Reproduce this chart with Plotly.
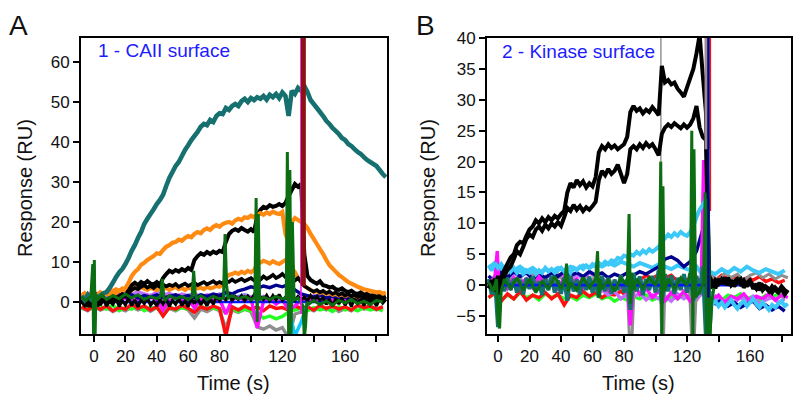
import plotly.graph_objects as go

# ---------------- time grids (sampling instants, s) ----------------
TA = list(range(-8, 188, 2))     # panel A, 2 s sampling
TA4 = list(range(-8, 188, 4))    # panel A, 4 s sampling
TB = list(range(-6, 186, 2))     # panel B, 2 s sampling
TB4 = list(range(-6, 186, 4))    # panel B, 4 s sampling

# ---------------- Panel A : CAII surface ----------------
TEAL_A = [1.5, 0.5, 1.8, 0.8, 2.0, 1.0, 1.6, 2.2,
          2.5, 3.5, 4.8, 6.2, 7.4, 8.2, 9.5, 11.0, 12.8, 14.2,
          16.0, 17.5, 19.5, 20.8, 22.0, 23.2, 24.5, 25.5, 26.8, 29.0,
          31.0, 32.5, 34.0, 35.0, 36.5, 38.0, 39.2, 40.5, 41.5, 42.5,
          43.8, 44.5, 44.2, 45.5, 45.0, 46.5, 47.2, 47.0, 48.5, 48.0,
          49.0, 49.5, 49.0, 50.2, 50.8, 50.0, 51.0, 50.5, 51.2, 50.8,
          51.5, 50.6, 51.8, 51.2, 52.0, 51.0, 52.4, 51.5, 46.5, 52.8,
          52.0, 53.5, 52.8, 54.0, 52.5, 50.5, 49.5, 48.5, 47.5, 46.5,
          45.3, 44.5, 43.5, 42.8, 42.0, 41.0, 40.5, 39.5, 39.0, 38.2,
          37.5, 37.0, 36.2, 35.5, 35.0, 34.5, 34.0, 33.0, 32.0, 31.2]
ORANGE_A1 = [1.5, 2.2, 1.2, 2.0, 1.0, 1.8, 2.4, 1.6, 2.2, 1.8,
             2.5, 2.2, 2.8, 3.0, 3.5, 4.8, 6.5, 7.5, 8.2, 9.3,
             9.8, 10.5, 11.0, 11.5, 12.2, 12.0, 13.0, 13.8, 14.2, 14.8,
             15.0, 15.6, 15.3, 16.0, 16.5, 16.2, 17.0, 17.5, 17.2, 18.0,
             18.4, 18.0, 18.8, 19.2, 18.8, 19.5, 19.8, 20.0, 19.6, 20.4,
             20.8, 20.5, 21.2, 21.0, 21.6, 21.2, 21.8, 22.2, 21.8, 22.4,
             22.0, 22.6, 22.2, 22.0, 22.5, 17.0, 15.0, 20.0, 21.0, 20.5,
             20.0, 19.5, 18.5, 17.0, 15.8, 14.5, 13.2, 12.0, 10.5, 9.2,
             8.4, 7.6, 6.8, 6.2, 5.6, 5.0, 4.6, 4.2, 3.8, 3.5,
             3.2, 3.0, 2.8, 2.6, 2.4, 2.5, 2.1, 2.3]
ORANGE_A2 = [1.0, 1.8, 0.8, 1.5, 0.5, 1.2, 2.0, 1.4, 2.2, 2.6,
             2.8, 3.2, 2.8, 3.4, 3.0, 3.5, 3.0, 3.6, 3.2, 3.8,
             3.3, 3.0, 3.6, 3.2, 3.0, 3.5, 3.2, 3.6, 3.0, 3.4,
             3.8, 3.2, 3.5, 3.0, 3.6, 3.3, 3.8, 3.4, 3.6, 3.2,
             3.8, 3.4, 3.6, 4.0, 3.8, 4.4, 6.0, 6.8, 7.0, 7.4,
             7.0, 7.6, 7.2, 7.8, 7.4, 8.0, 9.5, 9.8, 10.3, 10.0,
             9.6, 10.2, 9.8, 9.5, 10.0, 10.5, 9.5, 8.5, 7.5, 6.0,
             5.0, 4.0, 3.5, 3.0, 2.5, 2.8, 2.2, 2.5, 2.0, 2.3,
             1.8, 2.0, 1.6, 2.0, 1.5, 1.8, 1.4, 1.7, 1.2, 1.6,
             1.3, 1.5, 1.1, 1.4, 1.0, 1.3, 0.9, 1.2]
BLACK_A1 = [0.5, -0.5, 0.8, -0.8, 1.5, -1.0, 0.5, 1.0, 0.2, 1.2,
            0.6, 1.5, 1.0, 2.0, 1.5, 3.0, 4.2, 4.8, 4.2, 5.0,
            4.5, 5.2, 4.6, 4.4, 5.0, 4.3, 6.0, 7.0, 7.8, 7.4,
            8.0, 7.6, 8.2, 7.8, 8.5, 8.0, 10.5, 11.5, 12.2, 11.8,
            12.5, 12.0, 12.6, 12.2, 12.8, 12.5, 15.0, 17.0, 17.8, 18.2,
            17.8, 18.5, 18.0, 17.6, 18.2, 17.5, 21.5, 23.0, 23.8, 23.5,
            24.2, 23.8, 24.0, 24.5, 24.0, 24.8, 26.5, 28.0, 29.5, 28.8,
            29.5, 12.0, 6.5, 5.5, 5.0, 4.6, 5.2, 4.2, 4.0, 3.6,
            3.8, 3.2, 3.0, 3.4, 2.8, 2.5, 2.8, 2.2, 2.0, 2.4,
            1.8, 2.0, 1.5, 1.8, 1.3, 1.6, 1.0, 1.4]
BLACK_A2 = [0.2, -0.8, 0.5, -1.2, 0.8, -0.5, 0.3, 0.8, -0.2, 0.6,
            0.2, 0.9, 0.5, 1.2, 1.8, 2.2, 3.0, 3.5, 3.2, 3.8,
            4.2, 3.6, 4.0, 3.5, 4.2, 3.8, 4.4, 3.9, 4.3, 4.0,
            4.5, 3.8, 4.2, 4.6, 4.0, 4.4, 4.8, 4.2, 4.6, 5.0,
            4.4, 4.8, 5.2, 4.6, 5.0, 4.6, 5.4, 5.0, 5.6, 5.0,
            5.4, 5.8, 5.2, 5.6, 6.0, 5.4, 6.2, 5.6, 6.4, 5.8,
            6.2, 6.8, 6.0, 6.4, 7.0, 6.2, 6.8, 6.0, 5.4, 6.0,
            5.0, 4.0, 3.5, 3.0, 2.6, 3.0, 2.4, 2.8, 2.2, 2.6,
            2.0, 2.4, 1.8, 2.2, 1.6, 2.0, 1.4, 1.8, 1.2, 1.6,
            1.0, 1.4, 0.8, 1.2, 0.6, 1.0, 0.5, 0.8]
BLACK_A3 = [-0.5, 0.8, -1.2, 0.4, -2.0, 1.5, -0.8, 0.6, -1.0, 0.2,
            -0.6, 0.9, -1.1, 0.3, -0.7, 1.0, -0.9, 0.5, -1.2, 0.6,
            -0.4, 1.1, -0.8, 0.2, -1.0, 0.7, -0.5, 0.9, -1.1, 0.4,
            -0.6, 1.0, -0.9, 0.3, -1.2, 0.8, -0.4, 1.2, -0.7, 0.5,
            -1.0, 0.9, -0.6, 1.3, 0.3, 1.4, 0.5, 1.6, 0.4, 1.4,
            0.6, 1.6, 0.3, 1.5, 0.5, 1.8, 0.4, 1.3, 0.6, 1.7,
            0.3, 1.6, 0.5, 1.9, 0.4, 1.2, 0.6, 1.5, 0.4, 1.4,
            0.5, 1.2, 0.3, 1.6, 0.4, 1.3, 0.5, 1.0, -0.6, 0.7,
            -1.0, 0.8, -0.5, 1.0, -0.8, 0.6, -1.1, 0.9, -0.4, 0.7,
            -0.9, 1.0, -0.6, 0.5, -1.0, 0.8, -0.3, 0.6]
GRAY_A = [-1.5, -2.2, -1.0, -2.0, -1.4, -2.4, -1.6, -2.2, -1.2, -2.0,
          -1.5, -2.3, -1.4, -2.8, -1.6, -2.2, -1.3, -2.0, -4.0, -1.8,
          -2.4, -1.5, -2.2, -6.5, -2.0, -2.6, -1.8, -2.4, -6.2, -6.8,
          -6.0, -7.0, -6.4, -9.0, -3.0, -2.5, -1.5, -2.2, -1.4, -2.0,
          -1.2, -2.4, -1.6, -2.2, -1.0, -1.8, -1.4, -2.0, -1.2]
RED_A = [-1.2, -2.0, -0.8, -1.8, -1.0, -2.2, -1.4, -1.8, -0.6, -1.6,
         -1.0, -2.0, -1.2, -3.5, -1.4, -1.8, -0.8, -1.6, -2.6, -1.2,
         -1.8, -1.0, -1.6, -8.5, -1.2, -2.0, -1.0, -1.8, -1.2, -2.2,
         -1.0, -1.6, -1.4, -2.0, -1.0, -1.6, -1.2, -2.0, -0.8, -1.6,
         -1.0, -1.8, -1.2, -2.0, -0.8, -1.4, -1.0, -1.8, -1.2]
LIME_A = [-1.6, -1.0, -2.0, -1.2, -1.8, -0.8, -2.2, -1.4, -1.8, -1.0,
          -2.2, -1.4, -1.6, -2.4, -1.2, -2.0, -1.4, -1.8, -2.2, -1.0,
          -1.8, -1.4, -2.0, -2.6, -1.6, -2.4, -1.8, -2.2, -2.8, -4.0,
          -3.5, -4.2, -3.6, -2.5, -2.0, -1.6, -2.2, -1.4, -2.0, -1.6,
          -2.4, -1.2, -2.0, -1.6, -2.2, -1.4, -2.0, -1.6, -2.2]
VIOLET_A = [1.5, 2.2, 1.0, 2.0, 1.2, 2.4, 1.4, 2.2, 1.8, 2.6,
            2.0, 1.6, 2.4, 1.8, 2.2, 1.4, 2.0, 1.6, 2.2, 1.2,
            1.8, 1.4, 2.0, 0.8, 1.6, 1.0, 1.8, 1.2, 0.6, 1.4,
            0.8, 1.2, 0.5, 1.0, 0.8, 1.4, 1.0, 1.6, 0.8, 1.2,
            0.6, 1.4, 0.8, 1.2, 1.0, 1.6, 0.8, 1.2, 1.0]
MAGENTA_A = [0.5, 1.2, 0.2, 1.0, 0.4, 1.4, 0.6, 1.0, 0.2, 0.8,
             0.4, 1.2, 0.6, -2.0, 0.4, 1.0, 0.2, 0.8, -1.5, 0.6,
             1.0, 0.4, 0.8, -3.0, 0.6, 1.2, 0.4, 1.0, -6.5, 0.2,
             0.8, -0.5, 0.6, -2.0, -1.0, 0.6, 0.2, 0.8, 0.4, 1.0,
             0.2, 0.8, 0.4, 1.0, 0.6, 1.2, 0.4, 0.8, 0.6]
CYAN_A = [1.0, 2.0, 1.2, 1.8, 0.8, 1.6, 1.0, 2.0, 1.4, 1.8,
          1.0, 1.6, 1.2, 1.8, 1.0, 1.4, 0.8, 1.6, 1.2, 1.8,
          1.0, 1.4, 0.8, 1.6, 1.0, 1.4, 1.8, 1.2, 0.6, 1.0,
          0.4, 1.0, 0.6, -1.0, -8.5, -5.0, -0.5,
          0.6, 1.0, 0.4, 0.8, 1.2, 0.6, 1.0, 0.4, 0.8, 1.2, 0.6, 1.0]
NAVY_A = [2.0, 1.2, 2.4, 1.6, 2.2, 1.4, 2.0, 1.2, 1.8, 1.0,
          1.6, 1.2, 1.8, 1.0, 1.4, 1.8, 1.2, 1.6, 1.0, 1.8,
          1.4, 2.0, 1.6, 2.4, 2.0, 2.8, 3.2, 3.8, 3.4, 4.0,
          3.6, 4.2, 3.8, 4.4, 3.0, 2.0, 1.6, 1.2, 1.8, 1.0,
          1.4, 0.8, 1.2, 0.6, 1.0, 0.4, 0.8, 0.2, 0.6]
GREEN_A_T = [-8, -5, -2, -0.8, -0.3, 0.2, 0.7, 1.2, 2, 5,
             8, 12, 16, 20, 24, 28, 32, 36, 40, 42.5,
             43.5, 44.5, 45.5, 48, 52, 56, 60, 62.5, 63.5, 64.5,
             65.5, 68, 72, 76, 80, 82.5, 83.5, 84.5, 85.5, 88,
             92, 96, 100, 102.5, 103.3, 104.0, 104.7, 105.5, 108, 112,
             116, 120, 122.5, 123.2, 124.0, 124.8, 125.6, 126.4, 127.5, 130,
             133.2, 134.0, 134.8, 135.6, 137, 140, 144, 148, 152, 156,
             160, 164, 168, 172, 176, 180, 184]
GREEN_A = [1.2, 0.4, 1.5, 9.5, -8.5, 10.5, -8.5, 2.0, 0.5, 1.8,
           0.6, 1.6, 0.8, 2.0, 1.0, 1.8, 0.6, 1.4, 0.8, 1.5,
           5.8, 1.0, 0.5, 1.6, 0.8, 1.4, 0.6, 1.2, 7.8, 2.0,
           0.8, 1.6, 0.6, 1.4, 0.8, 1.0, 17.0, 4.0, 1.0, 1.6,
           0.8, 1.4, 0.6, 1.0, 26.0, -5.0, 22.0, 0.5, 1.2, 0.6,
           1.4, 0.8, 1.0, 37.5, -8.5, 33.0, -8.5, 20.0, 0.5, 1.0,
           -1.0, -9.0, -6.0, 0.0, -0.5, 0.4, -0.6, 0.2, -0.8, 0.4,
           -0.2, 0.6, -0.4, 0.2, -0.6, 0.4, 0.0]
BLUE_A_T = [-8, 150]
BLUE_A = [0.0, 0.0]
MAROON_A_T = [133.4, 133.4]
MAROON_A = [4.0, 80.0]
MAGSPIKE_A_T = [131.9, 131.9]
MAGSPIKE_A = [-3.0, 80.0]

# ---------------- Panel B : Kinase surface ----------------
TEAL_B = [1.0, -1.5, 1.2, -6.8, 1.5, -1.0, 1.2, -0.8, 1.0, -1.2,
          0.8, -1.5, 1.2, -0.6, 1.4, -1.0, 0.6, -1.6, 1.0, -0.8,
          1.5, -1.2, 0.8, -1.4, 1.2, -2.5, 1.6, -1.0, 0.9, -1.5,
          1.2, -0.8, 1.4, -1.2, 0.8, -2.0, 1.5, -1.0, 1.2, -1.4,
          0.9, -0.8, 1.6, -1.2, 1.0, -4.0, 2.0, -1.0, 1.4, -1.6,
          1.0, -0.8, 1.5, -1.2, 2.5, -3.0, 1.8, -1.0, 1.6, -1.4,
          1.2, -0.8, 1.8, -1.2, 2.0, -2.5, 1.5, -1.5, 3.0, -8.5,
          -8.5, -1.0] + [None] * 24
BLACK_B1 = [0.5, -0.5, 1.0, -1.5, 1.0, 2.5, 3.5, 4.5, 5.0, 6.5,
            7.0, 6.8, 8.0, 9.0, 9.5, 10.5, 10.0, 10.8, 10.2, 11.0,
            10.5, 11.2, 10.8, 11.5, 12.0, 15.0, 16.5, 15.8, 17.0, 16.2,
            16.8, 15.8, 16.5, 16.0, 17.5, 21.5, 22.5, 22.0, 22.8, 22.2,
            22.6, 22.0, 22.4, 22.8, 24.0, 28.0, 29.0, 28.2, 28.6, 27.8,
            28.4, 28.0, 28.8, 28.2, 27.5, 35.5, 32.8, 33.2, 32.5, 32.8,
            31.8, 31.2, 30.5, 32.0, 33.5, 35.0, 37.5, 40.5, 34.0, 28.0,
            1.5, 0.5, -0.5, 1.0, 0.2, 1.2, 0.0, 0.8, -0.2, 0.6,
            1.0, -0.4, 0.4, 0.8, -0.6, 0.2, -0.8, 0.0, -0.4, -1.0,
            -0.2, -0.8, -1.2, -0.5, -1.5, -0.8]
BLACK_B2 = [-0.5, 0.8, -1.0, 1.5, -0.5, 1.5, 2.5, 3.0, 4.2, 5.5,
            5.0, 6.2, 7.5, 8.2, 7.8, 9.0, 9.5, 8.8, 9.8, 9.2,
            10.0, 9.5, 10.2, 9.6, 11.0, 12.5, 12.0, 13.0, 12.2, 12.8,
            12.0, 12.6, 12.2, 12.8, 13.5, 17.0, 18.5, 17.8, 18.8, 18.0,
            18.5, 19.5, 18.0, 16.5, 18.0, 22.0, 22.5, 22.0, 22.8, 22.2,
            23.0, 22.4, 22.8, 22.0, 21.0, 24.5, 25.5, 26.0, 25.6, 26.2,
            25.8, 25.4, 26.0, 25.5, 26.0, 27.0, 29.0, 25.5, 24.0, 23.5,
            0.5, -0.5, 0.8, 0.2, 1.0, 0.4, 1.2, 0.0, 0.6, 1.0,
            0.2, 0.8, -0.2, 0.6, 0.0, -0.6, 0.4, -0.8, -0.2, -0.6,
            -1.2, -0.4, -1.0, -0.2, -0.8, -1.2]
LIGHTBLUE_B1 = [3.2, 2.4, 3.6, 2.8, 3.4, 2.6, 3.0, 2.2, 2.8, 2.0,
                2.6, 1.8, 2.4, 2.0, 2.6, 1.8, 2.4, 2.0, 2.8, 2.2,
                2.6, 2.0, 2.4, 2.8, 2.2, 2.6, 2.0, 2.8, 2.4, 3.0,
                2.6, 3.2, 2.8, 3.4, 3.0, 3.6, 3.2, 3.8, 3.4, 4.0,
                3.8, 4.4, 4.2, 4.8, 4.6, 5.0, 4.8, 5.4, 5.0, 5.6,
                5.2, 5.8, 5.4, 5.8, 6.2, 7.0, 7.6, 8.2, 7.8, 8.4,
                8.0, 8.6, 8.2, 8.0, 8.6, 9.5, 11.0, 12.2, 13.0, 14.0,
                -1.0, -3.0, -2.6, -3.4, -2.8, -3.6, -3.0, -2.4, -3.2, -3.8,
                -3.0, -2.6, -3.4, -2.8, -2.2, -3.0, -3.6, -2.8, -3.4, -4.0,
                -3.2, -3.6, -3.0, -2.6, -3.4, -3.0]
LIGHTBLUE_B2 = [2.8, 3.6, 2.6, 3.2, 2.4, 3.0, 2.2, 2.8, 2.0, 2.6,
                2.2, 2.8, 2.4, 3.0, 2.6, 3.2, 2.8, 3.4, 3.0, 3.6,
                3.2, 3.8, 3.4, 3.0, 3.6, 3.2, 2.8, 3.4, 3.0, 2.6,
                3.2, 2.8, 2.4, 3.0, 1.6, 2.2, 1.8, 2.6, 2.0, 2.8,
                2.2, 3.0, 2.4, 2.0, 2.6, 2.2, 1.8, 2.4]
NAVY_B = [1.5, 0.5, 2.0, 1.2, 2.2, 1.4, 2.0, 1.0, 1.8, 1.2,
          2.0, 1.4, 2.2, 1.6, 2.0, 1.4, 2.2, 1.6, 2.0, 1.2,
          1.8, 1.4, 2.0, 1.6, 2.2, 1.8, 2.4, 3.0, 4.2, 4.6,
          4.0, 3.0, 3.8, 5.5, 9.0, -2.0, -3.0, -2.4, -3.4, -2.8,
          -3.6, -3.0, -2.6, -3.8, -3.2, -4.0, -3.4, -4.2]
VIOLET_B = [1.0, 0.2, 1.6, 0.8, 2.0, 1.2, 2.2, 1.4, 1.8, 1.0,
            2.0, 1.2, 1.6, 0.8, 1.8, 1.0, 2.0, 1.4, -0.8, -1.6,
            -1.0, -2.2, -1.4, -2.0, -1.2, -2.4, -1.6, -2.2, -1.8, -2.6,
            -1.4, -2.2, -1.6, -2.4, -1.0, -2.6, -1.8, -3.0, -2.2, -2.8,
            -2.0, -2.6, -1.8, -3.0, -2.4, -2.0, -2.8, -2.2]
RED_B = [-2.0, -1.2, -2.6, -1.4, -2.2, -1.0, -2.4, -1.6, -2.0, -1.2,
         -2.2, -1.4, -3.2, -1.6, -2.0, -1.0, -1.8, -1.2, -2.0, -1.4,
         -1.6, -1.0, -1.8, -1.2, 0.8, 1.6, 1.0, 1.8, 1.2, 1.6,
         0.6, 1.2, 0.4, 1.0, 0.6, 1.4, 0.8, 1.6, 1.0, 1.4,
         0.6, 1.2, 0.8, 1.4, 0.6, 1.0, 0.4, 0.8]
LIME_B = [-2.0, -1.4, -2.4, -1.6, -2.2, -1.2, -2.0, -1.6, -2.4, -1.4,
          -2.0, -1.6, -2.2, -1.8, -2.4, -1.6, -2.0, -1.4, -2.2, -1.8,
          -2.6, -2.0, -2.4, -1.8, -2.2, -1.6, -2.4, -2.0, -2.6, -1.8,
          -2.2, -1.6, -2.4, -2.0, -1.4, -2.2, -1.8, -2.4, -1.6, -2.0,
          -1.4, -2.2, -1.8, -2.4, -1.6, -2.0, -1.4, -2.2]
GRAY_B_T = [-6, -2, 2, 6, 10, 14, 18, 22, 26, 30,
            34, 38, 42, 46, 50, 54, 58, 62, 66, 70,
            74, 78, 82, 83.5, 85, 86.5, 90, 94, 98, 102,
            103, 104, 105, 106, 110, 114, 118, 121.5, 123, 124.5,
            126, 129, 132, 136, 140, 144, 148, 152, 156, 160,
            164, 168, 172, 176, 180, 184]
GRAY_B = [0.5, 1.5, -0.5, 1.8, 0.2, 1.2, -0.4, 1.6, 0.4, 1.4,
          -0.2, 1.8, 0.6, 1.2, -0.6, 1.4, 0.2, 1.6, 0.0, 1.2,
          -0.4, 1.0, 0.2, -9.0, -9.0, 0.5, 1.2, -0.4, 1.0, 0.0,
          1.5, -9.0, -9.0, 0.5, 1.2, -0.5, 1.0, 0.0, -9.0, -9.0,
          0.0, 1.0, -0.5, 1.5, 0.8, 2.0, 1.2, 1.8, 0.8, 1.6,
          2.0, 1.2, 1.8, 1.0, 1.6, 1.2]
GRAYSPIKE_B_T = [103.4, 103.4]
GRAYSPIKE_B = [20.0, 45.0]
MAGENTA_B_T = [-6, -2, -0.5, 0.5, 2, 6, 10, 14, 18, 22,
               26, 30, 34, 38, 42, 46, 50, 54, 58, 62,
               66, 70, 74, 78, 82, 84, 86, 90, 94, 98,
               102, 106, 110, 114, 118, 122, 126, 129, 130.5, 131.5,
               133, 136, 140, 144, 148, 152, 156, 160, 164, 168,
               172, 176, 180, 184]
MAGENTA_B = [0.5, 1.2, 5.5, 0.0, 1.0, -0.5, 1.2, 0.2, 1.0, -0.4,
             1.4, 0.0, 0.8, -0.6, 1.2, 0.2, 1.0, -0.4, 0.8, 0.0,
             1.2, -0.8, 0.6, -0.4, 0.2, -6.5, 0.5, -1.5, -0.5, -2.0,
             -1.0, -2.5, -1.2, -2.2, -1.0, -2.6, -1.5, 0.0, 20.0, 20.0,
             -1.0, -2.4, -1.6, -2.8, -1.8, -2.2, -1.4, -2.6, -1.8, -2.2,
             -1.4, -2.4, -1.6, -2.0]
GREEN_B_T = [-6, -3, -1, 0, 1, 2, 4, 8, 12, 16,
             20, 24, 28, 32, 36, 40, 42.5, 43.5, 44.5, 46,
             50, 54, 58, 62, 63.2, 64, 64.8, 66, 70, 74,
             78, 82, 83.2, 84, 84.8, 86, 88, 92, 96, 100,
             102.5, 103.3, 104, 104.7, 105.5, 108, 112, 116, 120, 122.3,
             123, 123.7, 124.4, 125.5, 128, 130.5, 131.5, 132.5, 133.5, 134.5,
             135.5, 137]
GREEN_B = [0.5, -1.0, 1.0, -5.5, -7.0, -1.0, 1.0, -0.5, 1.2, -0.8,
           1.0, -1.2, 0.6, -0.5, 1.4, -0.6, 0.8, 3.5, -1.0, 0.5,
           -0.8, 1.2, -0.4, 1.0, 5.5, -2.0, 1.0, -0.6, 0.8, -1.0,
           1.2, 0.0, 11.5, -3.0, 2.0, -0.8, 1.0, -0.5, 1.2, 0.0,
           2.0, 20.0, -9.0, 16.0, -1.0, 1.0, -0.6, 1.2, 0.0, 2.0,
           25.0, -9.0, 22.0, -2.0, -1.0, 0.5, 15.0, -9.0, 14.0, -9.0,
           -3.0, -0.5]
BLUE_B_T = [3, 160]
BLUE_B = [0.0, 0.0]
BAND_B_T = [133.0, 133.0]
BAND_B = [22.0, 45.0]
NAVYSPIKE_B_T = [133.6, 133.6]
NAVYSPIKE_B = [-2.0, 45.0]
REDSPIKE_B_T = [134.9, 134.9]
REDSPIKE_B = [12.0, 45.0]

# ---------------- sanity ----------------
for t, y in [(TA, TEAL_A), (TA, ORANGE_A1), (TA, ORANGE_A2), (TA, BLACK_A1), (TA, BLACK_A2),
             (TA, BLACK_A3), (TA4, GRAY_A), (TA4, RED_A), (TA4, LIME_A), (TA4, VIOLET_A),
             (TA4, MAGENTA_A), (TA4, CYAN_A), (TA4, NAVY_A), (GREEN_A_T, GREEN_A),
             (TB, TEAL_B), (TB, BLACK_B1), (TB, BLACK_B2), (TB, LIGHTBLUE_B1), (TB4, LIGHTBLUE_B2),
             (TB4, NAVY_B), (TB4, VIOLET_B), (TB4, RED_B), (TB4, LIME_B), (GRAY_B_T, GRAY_B),
             (MAGENTA_B_T, MAGENTA_B), (GREEN_B_T, GREEN_B)]:
    assert len(t) == len(y), (len(t), len(y))

C = dict(teal="#16706f", orange="#ff8a12", black="#000000", green="#0b6e12",
         gray="#8e8e8e", red="#ff1010", lime="#22ff22", violet="#c46cff",
         magenta="#ff10ff", cyan="#10c8ff", lightblue="#3cc8f8", navy="#000090",
         blue="#0a14ff", maroon="#8a1212", band="#a08c8c")

fig = go.Figure()


def add(x, y, color, width=3.4, panel="A"):
    xa, ya = ("x", "y") if panel == "A" else ("x2", "y2")
    fig.add_trace(go.Scatter(x=x, y=y, mode="lines", xaxis=xa, yaxis=ya,
                             line=dict(color=color, width=width, simplify=False),
                             hoverinfo="skip", showlegend=False))


# Panel A traces
add(TA4, GRAY_A, C["gray"])
add(TA4, LIME_A, C["lime"])
add(TA4, RED_A, C["red"])
add(TA4, CYAN_A, C["cyan"])
add(TA4, VIOLET_A, C["violet"])
add(TA4, MAGENTA_A, C["magenta"])
add(TA4, NAVY_A, C["navy"])
add(BLUE_A_T, BLUE_A, C["blue"], 2.4)
add(TA, BLACK_A3, C["black"], 3.0)
add(TA, ORANGE_A2, C["orange"], 4.0)
add(TA, BLACK_A2, C["black"], 3.6)
add(TA, BLACK_A1, C["black"], 4.0)
add(TA, ORANGE_A1, C["orange"], 4.2)
add(TA, TEAL_A, C["teal"], 4.6)
add(GREEN_A_T, GREEN_A, C["green"], 3.0)
add(MAGSPIKE_A_T, MAGSPIKE_A, C["magenta"], 1.6)
add(MAROON_A_T, MAROON_A, C["maroon"], 5)

# Panel B traces
add(TB4, LIME_B, C["lime"], panel="B")
add(TB4, RED_B, C["red"], panel="B")
add(TB4, VIOLET_B, C["violet"], panel="B")
add(GRAY_B_T, GRAY_B, C["gray"], 3.0, panel="B")
add(GRAYSPIKE_B_T, GRAYSPIKE_B, C["gray"], 1.4, panel="B")
add(TB4, LIGHTBLUE_B2, C["lightblue"], 4.0, panel="B")
add(TB4, NAVY_B, C["navy"], panel="B")
add(MAGENTA_B_T, MAGENTA_B, C["magenta"], panel="B")
add(TB, TEAL_B, C["teal"], 4.0, panel="B")
add(BLUE_B_T, BLUE_B, C["blue"], 2.8, panel="B")
add(TB, LIGHTBLUE_B1, C["lightblue"], 4.0, panel="B")
add(TB, BLACK_B2, C["black"], 4.0, panel="B")
add(TB, BLACK_B1, C["black"], 4.0, panel="B")
add(GREEN_B_T, GREEN_B, C["green"], 3.0, panel="B")
add(BAND_B_T, BAND_B, C["band"], 6, panel="B")
add(NAVYSPIKE_B_T, NAVYSPIKE_B, C["navy"], 2.4, panel="B")
add(REDSPIKE_B_T, REDSPIKE_B, C["red"], 1.2, panel="B")

FONT = "Liberation Sans, Arial, sans-serif"
X_TICKS = [0, 20, 40, 60, 80, 100, 120, 140, 160, 180]
X_LABELS = ["0", "20", "40", "60", "80", "", "120", "", "160", ""]

common = dict(showline=True, linecolor="black", linewidth=2, mirror=True,
              ticks="outside", ticklen=6, tickwidth=1.5, tickcolor="black",
              showgrid=False, zeroline=False, automargin=False,
              tickfont=dict(family=FONT, size=17, color="#111"))

ydom = [70 / 404, 366 / 404]
fig.update_layout(
    template="none",
    width=800, height=404, margin=dict(l=0, r=0, t=0, b=0, pad=0),
    paper_bgcolor="white", plot_bgcolor="white", showlegend=False,
    font=dict(family=FONT, color="#111"),
    xaxis=dict(domain=[81 / 800, 387 / 800], anchor="y", range=[-8.3, 186.7],
               tickmode="array", tickvals=X_TICKS, ticktext=X_LABELS, **common),
    yaxis=dict(domain=ydom, anchor="x", range=[-8, 66],
               tickmode="array", tickvals=[0, 10, 20, 30, 40, 50, 60], **common),
    xaxis2=dict(domain=[487 / 800, 791 / 800], anchor="y2", range=[-7.0, 186.0],
                tickmode="array", tickvals=X_TICKS, ticktext=X_LABELS, **common),
    yaxis2=dict(domain=ydom, anchor="x2", range=[-7.9, 40],
                tickmode="array", tickvals=[-5, 0, 5, 10, 15, 20, 25, 30, 35, 40], **common),
)


def note(text, x, y, size, color="#111", angle=0, xanchor="center"):
    fig.add_annotation(text=text, x=x / 800, y=1 - y / 404, xref="paper", yref="paper",
                       showarrow=False, textangle=angle, xanchor=xanchor, yanchor="middle",
                       font=dict(family=FONT, size=size, color=color))


note("A", 18, 25, 28)
note("B", 425, 25, 28)
note("1 - CAII surface", 96, 50, 19, color="#1c1cff", xanchor="left")
note("2 - Kinase surface", 500, 51, 19, color="#1c1cff", xanchor="left")
note("Time (s)", 233, 383, 20)
note("Time (s)", 638, 383, 20)
note("Response (RU)", 25, 188, 20, angle=-90)
note("Response (RU)", 428, 188, 20, angle=-90)

fig.write_html("out.html", config={"displayModeBar": False},
               post_script="document.body.style.margin='0';document.body.style.overflow='hidden';")
